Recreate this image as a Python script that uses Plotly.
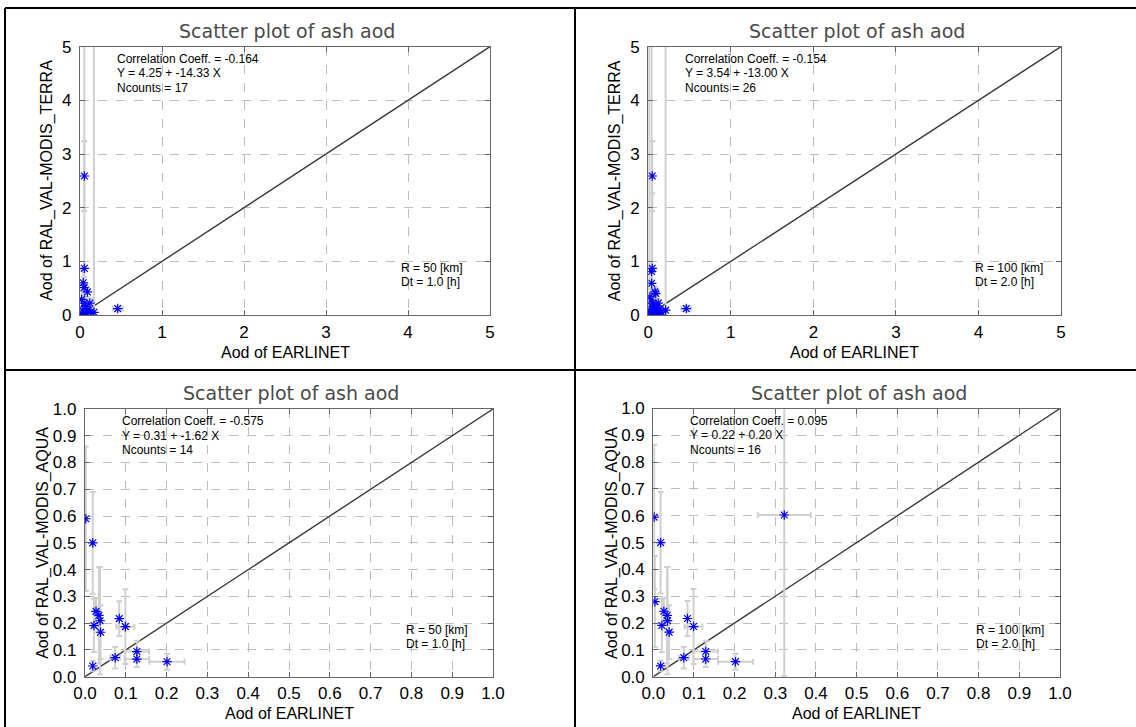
import plotly.graph_objects as go

W, H = 1136, 727

# ---------------- data ----------------
# Top-left: TERRA, R=50 km, Dt=1.0 h
tl_x = [0.053, 0.053, 0.04, 0.05, 0.09, 0.46, 0.02, 0.05, 0.12, 0.07, 0.10, 0.13, 0.03, 0.06, 0.17, 0.02, 0.09]
tl_y = [2.59, 0.87, 0.60, 0.51, 0.43, 0.12, 0.29, 0.22, 0.22, 0.16, 0.09, 0.06, 0.09, 0.04, 0.05, 0.02, 0.03]
tl_ex = [0.01, 0.01, 0.01, 0.01, 0.01, 0.06, 0.01, 0.01, 0.02, 0.01, 0.01, 0.02, 0.01, 0.01, 0.01, 0.01, 0.01]
tl_ey = [0.65, 6.0, 0.25, 0.2, 0.1, 0.05, 0.15, 0.1, 0.08, 0.08, 0.05, 0.04, 0.05, 0.03, 6.0, 0.02, 0.03]

# Top-right: TERRA, R=100 km, Dt=2.0 h
tr_x = [0.048, 0.048, 0.04, 0.04, 0.08, 0.09, 0.46, 0.21, 0.02, 0.03, 0.06, 0.12, 0.10, 0.04, 0.08, 0.14,
        0.02, 0.06, 0.11, 0.16, 0.01, 0.04, 0.09, 0.13, 0.03, 0.07]
tr_y = [2.59, 0.87, 0.81, 0.59, 0.43, 0.40, 0.12, 0.09, 0.34, 0.28, 0.22, 0.22, 0.17, 0.16, 0.12, 0.11,
        0.09, 0.08, 0.06, 0.05, 0.04, 0.03, 0.03, 0.02, 0.01, 0.01]
tr_ex = [0.01, 0.01, 0.01, 0.01, 0.01, 0.01, 0.06, 0.02, 0.01, 0.01, 0.01, 0.02, 0.01, 0.01, 0.01, 0.02,
         0.01, 0.01, 0.01, 0.02, 0.01, 0.01, 0.01, 0.01, 0.01, 0.01]
tr_ey = [0.65, 1.4, 6.0, 0.25, 0.1, 0.1, 0.05, 6.0, 0.15, 0.12, 0.1, 0.08, 0.08, 0.08, 0.05, 0.05,
         0.05, 0.04, 0.03, 0.03, 6.0, 0.02, 0.03, 0.02, 0.01, 0.01]

# Bottom-left: AQUA, R=50 km, Dt=1.0 h
bl_x = [0.002, 0.019, 0.027, 0.034, 0.022, 0.037, 0.038, 0.084, 0.099, 0.019, 0.074, 0.127, 0.127, 0.201]
bl_y = [0.59, 0.50, 0.244, 0.229, 0.191, 0.209, 0.166, 0.217, 0.187, 0.04, 0.071, 0.094, 0.066, 0.056]
bl_ex = [0.0, 0.0, 0.005, 0.005, 0.005, 0.005, 0.005, 0.0, 0.022, 0.0, 0.012, 0.03, 0.03, 0.043]
bl_ey = [0.27, 0.19, 0.05, 0.18, 0.1, 0.2, 0.1, 0.065, 0.14, 0.02, 0.04, 0.04, 0.03, 0.03]

# Bottom-right: AQUA, R=100 km, Dt=2.0 h
br_x = [0.002, 0.018, 0.026, 0.034, 0.021, 0.035, 0.039, 0.084, 0.099, 0.018, 0.075, 0.129, 0.129, 0.202, 0.322, 0.004]
br_y = [0.595, 0.50, 0.244, 0.229, 0.191, 0.209, 0.166, 0.217, 0.187, 0.04, 0.071, 0.094, 0.066, 0.056, 0.603, 0.28]
br_ex = [0.0, 0.0, 0.005, 0.005, 0.005, 0.005, 0.005, 0.0, 0.022, 0.0, 0.012, 0.03, 0.03, 0.043, 0.065, 0.0]
br_ey = [0.27, 0.19, 0.05, 0.18, 0.1, 0.2, 0.1, 0.065, 0.14, 0.02, 0.04, 0.04, 0.03, 0.03, 0.6, 0.17]

stats = [
    ["Correlation Coeff. = -0.164", "Y = 4.25 + -14.33 X", "Ncounts = 17"],
    ["Correlation Coeff. = -0.154", "Y = 3.54 + -13.00 X", "Ncounts = 26"],
    ["Correlation Coeff. = -0.575", "Y = 0.31 + -1.62 X", "Ncounts = 14"],
    ["Correlation Coeff. = 0.095", "Y = 0.22 + 0.20 X", "Ncounts = 16"],
]
params = [
    ["R = 50 [km]", "Dt = 1.0 [h]"],
    ["R = 100 [km]", "Dt = 2.0 [h]"],
    ["R = 50 [km]", "Dt = 1.0 [h]"],
    ["R = 100 [km]", "Dt = 2.0 [h]"],
]
ylabels = ["Aod of RAL_VAL-MODIS_TERRA", "Aod of RAL_VAL-MODIS_TERRA",
           "Aod of RAL_VAL-MODIS_AQUA", "Aod of RAL_VAL-MODIS_AQUA"]
xlabel = "Aod of EARLINET"
title_text = "Scatter plot of ash aod"
top_ticks = [0, 1, 2, 3, 4, 5]
bot_ticks = [0.0, 0.1, 0.2, 0.3, 0.4, 0.5, 0.6, 0.7, 0.8, 0.9, 1.0]

# ---------------- layout geometry (pixels) ----------------
def px(x):
    return x / W

def py(y):
    return 1 - y / H

# (left, right, top, bottom) of plot areas in pixels
boxes = [
    (80, 490, 46.7, 315),
    (648.3, 1061, 46.7, 315),
    (85, 493, 409, 676.7),
    (653.3, 1060, 408.5, 676.7),
]
ytitle_off = [33, 33, 42, 42]
param_off = [91, 88, 89, 86]

datasets = [
    (tl_x, tl_y, tl_ex, tl_ey, 5, top_ticks, "%d"),
    (tr_x, tr_y, tr_ex, tr_ey, 5, top_ticks, "%d"),
    (bl_x, bl_y, bl_ex, bl_ey, 1, bot_ticks, "%.1f"),
    (br_x, br_y, br_ex, br_ey, 1, bot_ticks, "%.1f"),
]

fig = go.Figure()
layout = dict(
    width=W, height=H, margin=dict(l=0, r=0, t=0, b=0, autoexpand=False),
    paper_bgcolor="white", plot_bgcolor="white", showlegend=False,
    font=dict(family="Liberation Sans, Arial, sans-serif", color="black"),
)
annotations = []
shapes = []

for i, (xs, ys, ex, ey, mx, ticks, fmt) in enumerate(datasets):
    n = "" if i == 0 else str(i + 1)
    xa, ya = "x" + n, "y" + n
    l, r, t, b = boxes[i]
    # 1:1 line
    fig.add_trace(go.Scatter(x=[0, mx], y=[0, mx], mode="lines",
                             line=dict(color="#3a3a3a", width=1.4),
                             xaxis=xa, yaxis=ya, hoverinfo="skip"))
    # points with error bars
    fig.add_trace(go.Scatter(
        x=xs, y=ys, mode="markers",
        marker=dict(symbol="asterisk-open", size=8, color="blue",
                    line=dict(color="blue", width=1.2)),
        error_x=dict(type="data", array=ex, color="#d0d0d0", thickness=2, width=3),
        error_y=dict(type="data", array=ey, color="#d0d0d0", thickness=2, width=3),
        xaxis=xa, yaxis=ya,
    ))
    tickvals = ticks
    ticktext = [fmt % v for v in ticks]
    axcommon = dict(
        range=[0, mx], tickvals=tickvals, ticktext=ticktext, automargin=False,
        showgrid=True, gridcolor="#bdbdbd", griddash="dash", gridwidth=1,
        showline=True, linecolor="#666666", linewidth=1.2, mirror="ticks",
        ticks="inside", ticklen=5, tickcolor="#666666",
        tickfont=dict(size=17, family="Liberation Sans, Arial, sans-serif", color="black"),
        zeroline=False, fixedrange=True,
    )
    layout["xaxis" + n] = dict(axcommon, domain=[px(l), px(r)], anchor=ya, ticklabelstandoff=1)
    layout["yaxis" + n] = dict(axcommon, domain=[py(b), py(t)], anchor=xa, ticklabelstandoff=4)

    cx = (l + r) / 2
    # panel title
    annotations.append(dict(x=px(cx + 2), y=py(t - 16), xref="paper", yref="paper",
                            text=title_text, showarrow=False,
                            font=dict(size=19, family="DejaVu Sans, sans-serif", color="#4a4a4a"),
                            xanchor="center", yanchor="middle"))
    # x-axis title
    annotations.append(dict(x=px(cx), y=py(b + 37), xref="paper", yref="paper",
                            text=xlabel, showarrow=False,
                            font=dict(size=16), xanchor="center", yanchor="middle"))
    # y-axis title
    annotations.append(dict(x=px(l - ytitle_off[i]), y=py((t + b) / 2), xref="paper", yref="paper",
                            text=ylabels[i], showarrow=False, textangle=-90,
                            font=dict(size=16), xanchor="center", yanchor="middle"))
    # stats text
    for k, line in enumerate(stats[i]):
        annotations.append(dict(x=px(l + 35), y=py(t + 12 + 14.5 * k), xref="paper", yref="paper",
                                text=line, showarrow=False, font=dict(size=12),
                                xanchor="left", yanchor="middle"))
    for k, line in enumerate(params[i]):
        annotations.append(dict(x=px(r - param_off[i]), y=py(b - 47 + 14.5 * k), xref="paper", yref="paper",
                                text=line, showarrow=False, font=dict(size=12),
                                xanchor="left", yanchor="middle"))

# panel borders
bl = dict(color="black", width=2)
shapes.append(dict(type="line", xref="paper", yref="paper", x0=px(5), x1=px(5), y0=0, y1=py(8), line=bl))
shapes.append(dict(type="line", xref="paper", yref="paper", x0=px(5), x1=1, y0=py(8), y1=py(8), line=bl))
shapes.append(dict(type="line", xref="paper", yref="paper", x0=px(575), x1=px(575), y0=0, y1=py(8), line=bl))
shapes.append(dict(type="line", xref="paper", yref="paper", x0=px(5), x1=1, y0=py(370), y1=py(370), line=bl))

layout["annotations"] = annotations
layout["shapes"] = shapes
fig.update_layout(**layout)

fig.write_html("out.html", config={"displayModeBar": False},
               post_script="document.body.style.margin='0';")
